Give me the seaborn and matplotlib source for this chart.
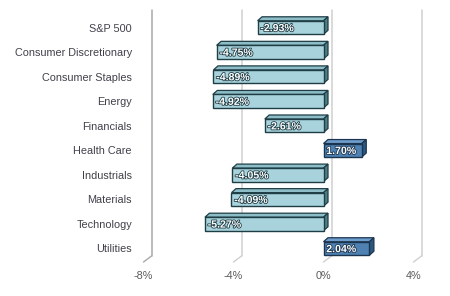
import numpy as np
import pandas as pd
import matplotlib
matplotlib.use("Agg")
import matplotlib.pyplot as plt
import seaborn as sns
from matplotlib.patches import Polygon
from matplotlib.lines import Line2D
from matplotlib.transforms import IdentityTransform
import matplotlib.patheffects as pe

categories = ["S&P 500", "Consumer Discretionary", "Consumer Staples", "Energy",
              "Financials", "Health Care", "Industrials", "Materials",
              "Technology", "Utilities"]
values = [-2.93, -4.75, -4.89, -4.92, -2.61, 1.70, -4.05, -4.09, -5.27, 2.04]
xticks = [-8, -4, 0, 4]
xticklabels = ["-8%", "-4%", "0%", "4%"]

NEG = dict(face="#a8d3dc", top="#8dbdc7", side="#4d7f89", edge="#1f3d45")
POS = dict(face="#4f82b3", top="#6f9dcb", side="#2c5880", edge="#1b3550")

sns.set_style("white")
plt.rcParams["font.family"] = ["Liberation Sans", "DejaVu Sans"]

W, H = 450, 296
fig = plt.figure(figsize=(W / 100, H / 100), dpi=100)
ax = fig.add_axes([143.5 / W, 1 - 262 / H, 270 / W, (262 - 16) / H])

df = pd.DataFrame({"cat": categories, "val": values,
                   "sign": ["neg" if v < 0 else "pos" for v in values]})
sns.barplot(data=df, y="cat", x="val", hue="sign",
            palette={"neg": NEG["face"], "pos": POS["face"]}, saturation=1,
            dodge=False, width=0.55, legend=False, ax=ax,
            edgecolor="#1f3d45", linewidth=1.0, zorder=3, errorbar=None)

ax.set_xlim(-8, 4)
ax.set_ylim(9.55, -0.47)
for s in ax.spines.values():
    s.set_visible(False)
ax.set_xlabel("")
ax.set_ylabel("")
ax.set_xticks(xticks)
ax.set_xticklabels(xticklabels, color="#5a5a5a", fontsize=7.8)
ax.tick_params(axis="x", length=0, pad=6.5)
ax.tick_params(axis="y", length=0, pad=8.3, labelsize=7.8, labelcolor="#40404a")
ax.grid(False)

fig.canvas.draw()
T = ax.transData
ident = IdentityTransform()

# back-wall gridlines with perspective floor diagonals
gdx, gdy = 8, 6
ybot, ytop = ax.get_ylim()
for i, t in enumerate(xticks):
    fx, fy_bot = T.transform((t, ybot))
    _, fy_top = T.transform((t, ytop))
    col = "#a8a8a8" if i == 0 else "#cfcfcf"
    ax.add_artist(Line2D([fx + gdx, fx + gdx], [fy_bot + gdy, fy_top + gdy],
                         color=col, lw=1.1, transform=ident, clip_on=False, zorder=1))
    ax.add_artist(Line2D([fx, fx + gdx], [fy_bot, fy_bot + gdy],
                         color=col, lw=1.0, transform=ident, clip_on=False, zorder=1))

# 3D top and side faces of bars (match each bar to its category by position)
bdx, bdy = 4.5, 4
for bar in ax.patches:
    x0, y0 = bar.get_x(), bar.get_y()
    w, h = bar.get_width(), bar.get_height()
    if h == 0 or np.isnan(w):
        continue
    idx = int(round(y0 + h / 2))
    v = values[idx]
    st = NEG if v < 0 else POS
    bar.set_edgecolor(st["edge"])
    p = T.transform([(x0, y0), (x0 + w, y0 + h)])
    xl, xr = sorted([p[0][0], p[1][0]])
    yb, yt = sorted([p[0][1], p[1][1]])
    top = [(xl, yt), (xr, yt), (xr + bdx, yt + bdy), (xl + bdx, yt + bdy)]
    side = [(xr, yb), (xr + bdx, yb + bdy), (xr + bdx, yt + bdy), (xr, yt)]
    ax.add_artist(Polygon(top, closed=True, facecolor=st["top"], edgecolor=st["edge"],
                          lw=0.9, transform=ident, clip_on=False, zorder=2.5))
    ax.add_artist(Polygon(side, closed=True, facecolor=st["side"], edgecolor=st["edge"],
                          lw=0.9, transform=ident, clip_on=False, zorder=2.5))
    ax.annotate(f"{v:.2f}%", xy=(min(0, v), y0 + h / 2), xytext=(2, -0.5),
                textcoords="offset points", ha="left", va="center",
                color="white", fontsize=7.6, fontweight="bold", zorder=5,
                path_effects=[pe.withStroke(linewidth=1.2, foreground=st["edge"])])

fig.savefig("out.png", dpi=100)
